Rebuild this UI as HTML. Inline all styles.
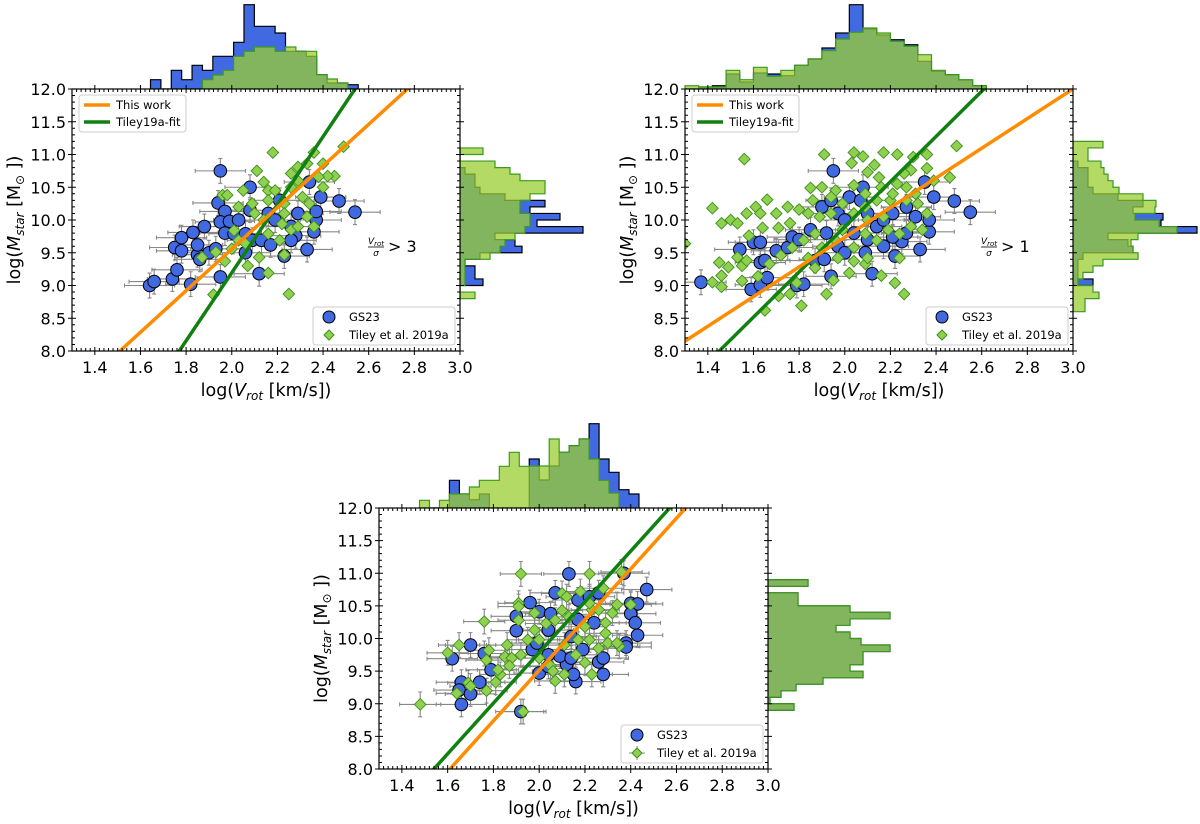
<!DOCTYPE html>
<html><head><meta charset="utf-8"><style>
body{margin:0;background:#fff}
svg text{font-family:"DejaVu Sans","Liberation Sans",sans-serif;fill:#000}
</style></head><body>
<svg id="fig" width="1200" height="819" viewBox="0 0 1200 819" xmlns="http://www.w3.org/2000/svg"></svg>
<script>
// ===== DATA =====
const xTicks=[1.4,1.6,1.8,2.0,2.2,2.4,2.6,2.8,3.0];
const yTicks=[8.0,8.5,9.0,9.5,10.0,10.5,11.0,11.5,12.0];
// panel 1
const p1BlueX=[1.95,2.08,1.64,1.66,1.74,1.82,1.76,1.75,1.78,1.78,1.83,1.85,1.85,1.86,1.88,1.9,1.93,1.95,1.94,1.97,1.95,1.99,1.97,2.12,2.23,2.28,2.33,2.34,2.39,2.47,2.54,2.36,2.37,2.37,2.01,2.06,2.09,2.13,2.08,2.16,2.19,2.26,2.17,2.26,2.29,2.21,2.06,2.03];
const p1BlueY=[10.75,10.5,9.0,9.06,9.1,9.02,9.24,9.58,9.53,9.73,9.81,9.47,9.62,9.4,9.9,9.5,9.56,9.13,10.26,10.13,9.97,9.98,9.8,9.18,9.45,9.76,9.55,10.58,10.35,10.29,10.12,9.82,10.0,10.13,9.79,9.79,9.69,9.69,10.15,10.1,10.0,9.9,9.62,9.69,10.1,10.3,9.5,10.0];
const p1GreenX=[2.18,2.11,2.49,2.45,2.42,2.4,2.36,2.33,2.26,2.29,2.38,2.4,2.05,2.14,2.16,2.19,1.96,1.98,2.03,2.09,2.16,2.23,2.31,2.34,2.33,2.23,2.22,2.14,2.01,2.03,2.06,2.0,1.93,1.87,1.97,2.07,2.12,2.16,2.23,2.25,1.92,2.26,2.21,2.29,2.36,2.16,2.1,2.26,2.29];
const p1GreenY=[11.03,10.75,11.12,10.67,10.67,10.86,11.03,10.86,10.71,10.81,10.66,10.5,10.45,10.58,10.45,10.45,10.38,10.38,10.2,10.25,10.3,10.25,10.35,10.25,10.05,10.1,9.94,10.0,9.84,9.69,9.64,9.56,9.51,9.43,9.37,9.3,9.43,9.19,9.47,8.87,8.86,9.85,9.69,9.9,9.9,9.79,10.1,10.5,10.6];
const p1TopBlue=[9.3,0,18.7,9.3,23.7,18.7,32.7,32.7,46.7,84.3,62.7,62.7,56,37.7,37.7,32.7,14.3,6,6,4.3];
const p1TopGreen=[0,0,0,0,0,9.3,14,18.7,32.7,37.7,42,42,37.7,42,37.7,37.7,14.3,10,6,0];
const p1RightBlue=[0,0,23,15,15,5,20,62,55,35,123,77,100,70,85,45,20,15,15,5,0,0,0];
const p1RightGreen=[15,0,5,5,5,5,30,40,45,55,65,70,70,60,60,70,85,85,60,50,35,0,23];
// panel 2
const p2BlueX=[1.37,1.54,1.6,1.63,1.59,1.63,1.66,1.63,1.65,1.7,1.75,1.77,1.79,1.82,1.87,1.91,1.94,1.95,2.08,2.12,2.33,2.39,2.48,2.55,2.37,2.37,2.35,2.22,2.25,2.21,1.9,1.94,1.97,2.0,2.02,2.07,2.1,2.14,2.17,2.21,2.27,2.31,2.04,2.1,1.97,1.92,1.85,1.8,2.0,2.09,2.17,2.27];
const p2BlueY=[9.05,9.55,9.66,9.66,8.94,9.01,9.12,9.35,9.38,9.53,9.58,9.74,9.0,9.02,9.38,9.4,9.14,10.75,10.5,9.18,9.55,10.35,10.29,10.12,9.82,10.0,10.58,9.45,9.67,9.74,10.2,10.3,10.1,10.0,10.35,10.3,10.1,9.9,10.0,10.1,10.2,10.05,9.8,9.7,9.6,9.8,9.85,9.7,9.5,9.5,9.6,9.8];
const p2GreenX=[1.56,1.91,2.04,2.08,2.17,2.23,2.3,2.36,2.49,2.13,2.03,2.1,2.15,2.29,2.26,2.36,2.39,2.46,2.23,2.16,2.04,1.96,1.9,1.85,1.8,1.75,1.7,1.66,1.61,1.63,1.57,1.42,1.46,1.5,1.53,1.58,1.64,1.71,1.76,1.3,1.53,1.55,1.57,1.45,1.49,1.46,1.42,1.46,1.55,1.62,1.67,1.71,1.76,1.81,1.65,1.79,1.92,1.95,2.02,2.09,2.16,2.22,2.26,2.24,1.72,1.77,1.82,1.87,1.9,1.96,1.99,2.04,2.09,2.14,2.19,2.24,2.29,2.34,2.36,2.32,2.27,2.2,2.14,2.09,2.04,1.99,1.94,1.89,1.84,1.86,1.94,2.09,2.21,2.27,2.31,2.1,2.17,1.97,2.04,2.1,1.87,1.84];
const p2GreenY=[10.93,11.0,11.03,10.97,11.03,11.0,10.96,11.0,11.13,10.84,10.87,10.73,10.65,10.76,10.71,10.79,10.6,10.65,10.55,10.5,10.53,10.45,10.5,10.49,10.16,10.2,10.1,10.31,10.2,10.1,10.1,10.18,9.95,10.0,9.95,9.76,9.88,9.88,9.95,9.64,9.43,9.3,9.38,9.35,9.28,9.15,9.05,8.98,9.07,9.14,9.33,8.84,8.87,8.69,8.62,9.04,8.87,9.08,9.19,9.33,9.15,9.04,8.87,9.42,9.46,9.58,9.69,9.79,9.58,9.69,9.85,9.58,9.79,9.69,9.85,9.79,9.9,9.85,10.1,10.25,10.3,10.3,10.3,10.2,10.1,10.25,10.1,10.05,10.1,10.3,10.35,10.4,10.4,10.5,10.4,10.0,10.05,9.42,9.37,9.42,9.27,9.42];
const p2TopBlue=[0,2,3.3,15,7,16,15,13.3,23.7,30,41,56,84.3,60,54,49.3,44.3,27.7,17.7,14.3,9,3.3];
const p2TopGreen=[3.3,2,2,18.7,9.3,21.7,12.7,18.7,23.7,30,38.3,50,56.7,61,56,47.7,42.7,34.3,18.7,14.3,9.3,3.3];
const p2RightBlue=[0,0,0,0,20,5,5,5,10,60,55,35,124,88,90,60,70,45,20,15,15,15,5,0,0,0];
const p2RightGreen=[12,12,26,20,5,10,20,30,65,60,58,65,104,86,62,82,83,70,46,40,35,31,28,15,15,30];
// panel 3
const p3BlueX=[1.62,1.66,1.66,1.65,1.7,1.74,1.7,1.76,1.79,1.9,1.9,1.96,2.0,2.05,2.07,2.13,2.17,2.22,2.26,2.37,2.4,2.43,2.4,2.42,2.43,2.47,2.38,2.38,2.28,2.16,2.26,2.28,2.12,2.09,2.04,2.0,1.97,1.99,2.04,2.14,2.19,2.24,2.17,1.92,2.04,2.14,2.15];
const p3BlueY=[9.69,8.99,9.33,9.21,9.15,9.33,9.9,9.77,9.52,10.34,10.12,10.55,10.41,10.38,10.7,10.99,10.59,10.64,10.7,11.0,10.54,10.53,10.38,10.24,10.05,10.75,9.93,9.87,9.45,9.34,9.64,9.7,9.6,9.73,9.75,9.47,9.83,9.93,10.13,10.03,9.83,10.24,10.29,8.88,9.57,9.7,9.45];
const p3GreenX=[1.48,1.6,1.65,1.76,1.64,1.69,1.7,1.77,1.81,1.83,1.82,1.77,1.78,1.86,1.85,1.88,1.87,1.92,1.95,1.91,1.91,1.91,1.98,1.92,1.98,2.0,2.0,2.05,2.06,2.07,2.11,2.03,2.07,2.1,2.1,2.12,2.18,2.22,2.28,2.36,2.34,2.4,2.32,2.29,2.29,2.26,2.3,2.35,2.34,2.22,2.2,2.17,2.16,2.2,2.23,2.11,2.13,2.23,2.26,1.93,2.22];
const p3GreenY=[8.99,9.78,9.9,10.26,9.16,9.32,9.27,9.2,9.33,9.45,9.52,9.67,9.82,9.9,9.72,9.7,9.58,9.75,9.98,10.54,10.49,10.28,10.39,10.99,10.13,9.98,9.7,9.58,9.5,9.35,9.45,10.23,10.28,10.43,10.69,10.64,10.72,10.99,10.77,11.02,10.52,10.52,10.39,10.24,10.08,9.85,9.93,9.88,9.93,9.98,10.18,9.98,9.75,9.63,9.45,9.9,10.33,10.44,10.44,8.88,10.54];
const p3TopBlue=[0,0,0,27.7,14,8.3,14,0,0,0,0,49,28,42,55.7,62.3,69,84.3,49,35.7,18.3,14];
const p3TopGreen=[7.7,0,7.7,14,14,21,27.7,27.7,41.7,55.7,41.7,42,42,69,55.7,62.3,69,49,27.7,15,0,0];
const p3RightBlue=[26,2,13,28,55,95,82,95,95,122,93,82,68,82,122,82,30,30,0,40];
const p3RightGreen=[26,2,13,28,55,95,82,95,95,122,93,82,68,82,122,82,30,30,0,40];
// fit lines: [slope, intercept]
const p1Orange=[3.175,3.206], p1Green=[5.195,-1.195];
const p2Orange=[2.265,5.206], p2Green=[3.448,3.0];
const p3Orange=[3.883,1.748], p3Green=[3.883,2.02];

// ===== DRAW =====
const NS="http://www.w3.org/2000/svg";
const fig=document.getElementById('fig');
function mk(tag,attrs,parent){const e=document.createElementNS(NS,tag);for(const k in attrs)e.setAttribute(k,attrs[k]);(parent||fig).appendChild(e);return e;}

function panel(id,box,d){
  const g=mk('g',{});
  
  
  const sx=v=>box.L+(v-1.3)/(3.0-1.3)*(box.R-box.L);
  const sy=v=>box.B-(v-8)/(12-8)*(box.B-box.T);
  const topHist=(vals,start,w,fill,stroke,name)=>{
    let p=`M${sx(start)},${box.T}`;
    vals.forEach((h,i)=>{p+=` L${sx(start+i*w)},${box.T-h} L${sx(start+(i+1)*w)},${box.T-h}`;});
    p+=` L${sx(start+vals.length*w)},${box.T} Z`;
    const e=mk('path',{d:p,fill:fill,stroke:stroke,'stroke-width':1.2},g);
    
    
  };
  const rightHist=(vals,start,w,fill,stroke,name)=>{
    let p=`M${box.R},${sy(start)}`;
    vals.forEach((h,i)=>{p+=` L${box.R+h},${sy(start+i*w)} L${box.R+h},${sy(start+(i+1)*w)}`;});
    p+=` L${box.R},${sy(start+vals.length*w)} Z`;
    const e=mk('path',{d:p,fill:fill,stroke:stroke,'stroke-width':1.2},g);
    
    
  };
  topHist(d.topBlue,d.topStart,d.topW,'#4169e1','#000','top-hist-gs23');
  topHist(d.topGreen,d.topStart,d.topW,'rgba(154,205,50,0.75)','#3a9a20','top-hist-tiley');
  rightHist(d.rightBlue,d.rightStart,0.1,'#4169e1','#000','right-hist-gs23');
  rightHist(d.rightGreen,d.rightStart,0.1,'rgba(154,205,50,0.75)','#3a9a20','right-hist-tiley');
  const bg=mk('rect',{x:box.L,y:box.T,width:box.R-box.L,height:box.B-box.T,fill:'#fff'},g);
  
  
  const cid='clip'+id;
  const cp=mk('clipPath',{id:cid},g);
  mk('rect',{x:box.L,y:box.T,width:box.R-box.L,height:box.B-box.T},cp);
  const inner=mk('g',{'clip-path':`url(#${cid})`},g);
  const eb=(xs,ys,xe,ye)=>{
    xs.forEach((x,i)=>{
      const cx=sx(x),cy=sy(ys[i]);
      const l=mk('path',{d:`M${sx(x-xe)},${cy}H${sx(x+xe)}M${cx},${sy(ys[i]-ye)}V${sy(ys[i]+ye)}M${sx(x-xe)},${cy-2}v4M${sx(x+xe)},${cy-2}v4M${cx-2},${sy(ys[i]-ye)}h4M${cx-2},${sy(ys[i]+ye)}h4`,stroke:'#888','stroke-width':1.1,fill:'none'},inner);
      
      
    });
  };
  eb(d.blueX,d.blueY,0.11,0.19);
  if(d.greenErr) eb(d.greenX,d.greenY,0.09,0.19);
  const circles=()=>d.blueX.forEach((x,i)=>{
    const c=mk('circle',{cx:sx(x),cy:sy(d.blueY[i]),r:6.3,fill:'#4169e1',stroke:'#000','stroke-width':1},inner);
    
    
  });
  const diamonds=()=>d.greenX.forEach((x,i)=>{
    const cx=sx(x),cy=sy(d.greenY[i]),s=5.8;
    const c=mk('path',{d:`M${cx},${cy-s}L${cx+s},${cy}L${cx},${cy+s}L${cx-s},${cy}Z`,fill:'#8fd14f',stroke:'#3e8e1e','stroke-width':0.9},inner);
    
    
  });
  circles();diamonds();
  const line=(c,col,name)=>{
    const l=mk('line',{x1:sx(1.3),y1:sy(c[0]*1.3+c[1]),x2:sx(3.0),y2:sy(c[0]*3.0+c[1]),stroke:col,'stroke-width':3.5},inner);
    
    
  };
  line(d.green,'#108010','tiley19a-fit-line');
  line(d.orange,'#ff8c00','this-work-line');
  const fr=mk('rect',{x:box.L,y:box.T,width:box.R-box.L,height:box.B-box.T,fill:'none',stroke:'#000','stroke-width':1.2},g);
  
  
  let tp='';
  for(let v=1.32;v<3.0;v+=0.02){const x=sx(v);tp+=`M${x},${box.B}v-3M${x},${box.T}v3`;}
  for(let v=8.1;v<12;v+=0.1){const y=sy(v);tp+=`M${box.L},${y}h3M${box.R},${y}h-3`;}
  xTicks.forEach(v=>{const x=sx(v);tp+=`M${x},${box.B+4}v-8M${x},${box.T-4}v8`;});
  yTicks.forEach(v=>{const y=sy(v);tp+=`M${box.L-4},${y}h8M${box.R+4},${y}h-8`;});
  mk('path',{d:tp,stroke:'#000','stroke-width':1,fill:'none'},g);
  xTicks.forEach(v=>{const t=mk('text',{x:sx(v),y:box.B+22,'font-size':16,'text-anchor':'middle'},g);t.textContent=v.toFixed(1);
    });
  yTicks.forEach(v=>{const t=mk('text',{x:box.L-6,y:sy(v)+6,'font-size':16,'text-anchor':'end'},g);t.textContent=v.toFixed(1);
    });
  const xt=mk('text',{x:(box.L+box.R)/2,y:box.B+45,'font-size':17.5,'text-anchor':'middle'},g);
  xt.innerHTML='log(<tspan font-style="italic">V</tspan><tspan font-size="12" font-style="italic" dy="4">rot</tspan><tspan dy="-4"> [km/s])</tspan>';
  
  const yt=mk('text',{x:0,y:0,'font-size':17.5,'text-anchor':'middle',transform:`translate(${box.L-52},${(box.T+box.B)/2}) rotate(-90)`},g);
  yt.innerHTML='log(<tspan font-style="italic">M</tspan><tspan font-size="12" font-style="italic" dy="4">star</tspan><tspan dy="-4"> [M</tspan><tspan font-size="12" dy="4">⊙</tspan><tspan dy="-4"> ])</tspan>';
  
  if(d.lineLegend){
    const lg=mk('g',{},g);
    mk('rect',{x:box.L+7,y:box.T+6,width:107,height:37,rx:3,fill:'#fff',stroke:'#ccc'},lg);
    mk('line',{x1:box.L+12,y1:box.T+16,x2:box.L+38,y2:box.T+16,stroke:'#ff8c00','stroke-width':3.5},lg);
    mk('line',{x1:box.L+12,y1:box.T+33,x2:box.L+38,y2:box.T+33,stroke:'#108010','stroke-width':3.5},lg);
    const a=mk('text',{x:box.L+44,y:box.T+20,'font-size':11.5},lg);a.textContent='This work';
    const b=mk('text',{x:box.L+44,y:box.T+37,'font-size':11.5},lg);b.textContent='Tiley19a-fit';
  }
  const lg2=mk('g',{},g);
  const lx=box.R-147,ly=box.B-44;
  mk('rect',{x:lx,y:ly,width:142,height:38,rx:3,fill:'#fff',stroke:'#ccc'},lg2);
  mk('circle',{cx:lx+16,cy:ly+10,r:6,fill:'#4169e1',stroke:'#000'},lg2);
  if(d.greenErr) mk('path',{d:`M${lx+8},${ly+28}h16M${lx+16},${ly+21}v14`,stroke:'#888'},lg2);
  mk('path',{d:`M${lx+16},${ly+23}l5,5l-5,5l-5,-5z`,fill:'#8fd14f',stroke:'#3e8e1e'},lg2);
  const c=mk('text',{x:lx+36,y:ly+14,'font-size':11.5},lg2);c.textContent='GS23';
  const e=mk('text',{x:lx+36,y:ly+32,'font-size':11.5},lg2);e.textContent='Tiley et al. 2019a';
  if(d.annot){
    const an=mk('g',{},g);
    const ax=box.L+d.annotDx,ay=box.T+158;
    const t1=mk('text',{x:ax+8,y:ay-3,'font-size':9,'font-style':'italic','text-anchor':'middle'},an);t1.innerHTML='V<tspan font-size="7" dy="2">rot</tspan>';
    mk('line',{x1:ax,y1:ay,x2:ax+16,y2:ay,stroke:'#000','stroke-width':0.8},an);
    const t2=mk('text',{x:ax+8,y:ay+9,'font-size':9,'font-style':'italic','text-anchor':'middle'},an);t2.textContent='σ';
    const t3=mk('text',{x:ax+20,y:ay+5,'font-size':16},an);t3.textContent=d.annot;
  }
}
panel('panel-1',{L:72,R:460,T:89,B:351},{blueX:p1BlueX,blueY:p1BlueY,greenX:p1GreenX,greenY:p1GreenY,
  topBlue:p1TopBlue,topGreen:p1TopGreen,topStart:1.644,topW:0.0455,rightBlue:p1RightBlue,rightGreen:p1RightGreen,rightStart:8.8,
  orange:p1Orange,green:p1Green,lineLegend:true,annot:'> 3',annotDx:296});
panel('panel-2',{L:685,R:1073,T:89,B:351},{blueX:p2BlueX,blueY:p2BlueY,greenX:p2GreenX,greenY:p2GreenY,
  topBlue:p2TopBlue,topGreen:p2TopGreen,topStart:1.3,topW:0.06,rightBlue:p2RightBlue,rightGreen:p2RightGreen,rightStart:8.6,
  orange:p2Orange,green:p2Green,lineLegend:true,annot:'> 1',annotDx:296});
panel('panel-3',{L:379,R:768,T:508,B:769},{blueX:p3BlueX,blueY:p3BlueY,greenX:p3GreenX,greenY:p3GreenY,greenErr:true,
  topBlue:p3TopBlue,topGreen:p3TopGreen,topStart:1.477,topW:0.0436,rightBlue:p3RightBlue,rightGreen:p3RightGreen,rightStart:8.9,
  orange:p3Orange,green:p3Green,lineLegend:false,annot:null});
</script>
</body></html>
